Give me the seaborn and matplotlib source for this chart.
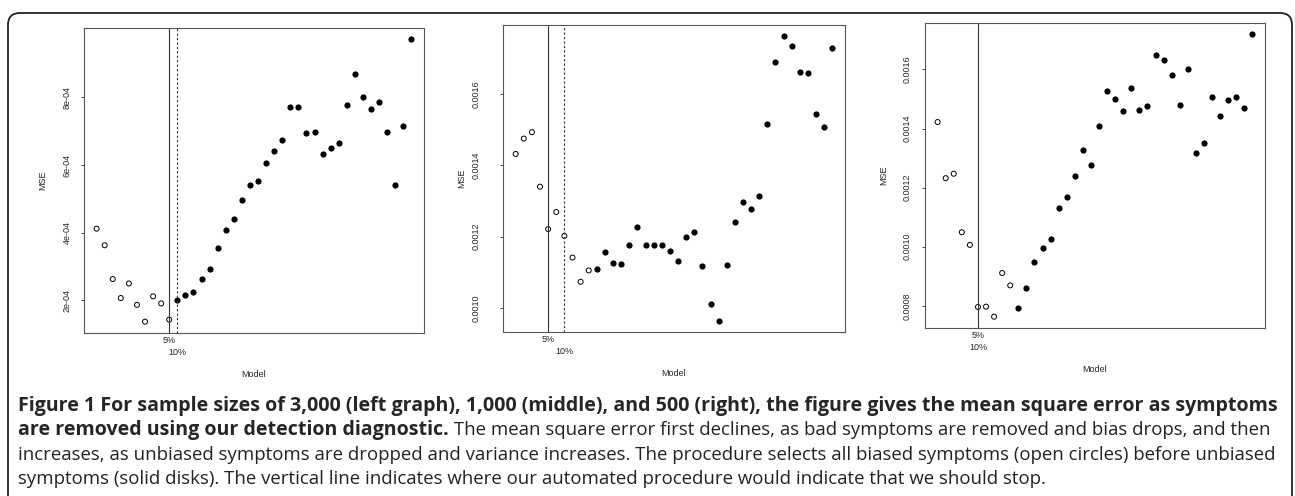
import matplotlib
matplotlib.use("Agg")
import numpy as np
import pandas as pd
import matplotlib.pyplot as plt
import seaborn as sns
from matplotlib.patches import FancyBboxPatch
from matplotlib.transforms import IdentityTransform

# MSE by model step; first N_OPEN points are biased symptoms (open circles)
N_OPEN = 10

mse_3000 = [4.12e-4, 3.63e-4, 2.63e-4, 2.07e-4, 2.50e-4, 1.87e-4, 1.37e-4, 2.12e-4, 1.91e-4, 1.43e-4,
            2.01e-4, 2.16e-4, 2.25e-4, 2.63e-4, 2.93e-4, 3.55e-4, 4.07e-4, 4.41e-4, 4.96e-4, 5.41e-4,
            5.52e-4, 6.06e-4, 6.41e-4, 6.75e-4, 7.72e-4, 7.72e-4, 6.94e-4, 6.97e-4, 6.34e-4, 6.52e-4,
            6.66e-4, 7.79e-4, 8.70e-4, 8.00e-4, 7.67e-4, 7.86e-4, 6.98e-4, 5.41e-4, 7.17e-4, 9.72e-4]

mse_1000 = [0.001432, 0.001475, 0.001493, 0.001340, 0.001221, 0.001269, 0.001202, 0.001141, 0.001073, 0.001105,
            0.001110, 0.001158, 0.001127, 0.001124, 0.001177, 0.001226, 0.001177, 0.001176, 0.001177, 0.001160,
            0.001131, 0.001199, 0.001214, 0.001118, 0.001010, 0.000964, 0.001120, 0.001240, 0.001298, 0.001277,
            0.001315, 0.001516, 0.001689, 0.001762, 0.001734, 0.001661, 0.001659, 0.001544, 0.001507, 0.001730]

mse_500 = [0.001422, 0.001232, 0.001247, 0.001049, 0.001006, 0.000796, 0.000797, 0.000763, 0.000911, 0.000869,
           0.000791, 0.000861, 0.000948, 0.000996, 0.001026, 0.001131, 0.001169, 0.001240, 0.001326, 0.001276,
           0.001407, 0.001528, 0.001500, 0.001461, 0.001537, 0.001464, 0.001477, 0.001649, 0.001631, 0.001580,
           0.001481, 0.001600, 0.001318, 0.001351, 0.001506, 0.001443, 0.001496, 0.001508, 0.001468, 0.001719]

# stopping points (model index) for the 5% and 10% rules
cut_5 = [10, 5, 6]
cut_10 = [11, 7, 6]

ytick_vals = [[2e-4, 4e-4, 6e-4, 8e-4],
              [0.0010, 0.0012, 0.0014, 0.0016],
              [0.0008, 0.0010, 0.0012, 0.0014, 0.0016]]
ytick_labels = [["2e-04", "4e-04", "6e-04", "8e-04"],
                ["0.0010", "0.0012", "0.0014", "0.0016"],
                ["0.0008", "0.0010", "0.0012", "0.0014", "0.0016"]]

caption_bold_1 = ("Figure 1 For sample sizes of 3,000 (left graph), 1,000 (middle), and 500 (right), "
                  "the figure gives the mean square error as symptoms")
caption_bold_2 = "are removed using our detection diagnostic."
caption_norm_2 = (" The mean square error first declines, as bad symptoms are removed and bias drops, "
                  "and then")
caption_norm_3 = ("increases, as unbiased symptoms are dropped and variance increases. The procedure "
                  "selects all biased symptoms (open circles) before unbiased")
caption_norm_4 = ("symptoms (solid disks). The vertical line indicates where our automated procedure "
                  "would indicate that we should stop.")

W, H = 1295, 496

sns.set_style("ticks")
plt.rcParams['font.family'] = ['Liberation Sans', 'DejaVu Sans']

fig = plt.figure(figsize=(W / 100, H / 100), dpi=100)

# axes boxes in pixels: left, top, right, bottom; plus tick label gap
boxes = [(84, 28, 424, 333), (503, 25, 845, 332), (925, 23, 1265, 328)]
label_gap = [12, 22, 13]

for i, mse in enumerate([mse_3000, mse_1000, mse_500]):
    l, t, r, b = boxes[i]
    ax = fig.add_axes([l / W, 1 - b / H, (r - l) / W, (b - t) / H])
    df = pd.DataFrame({"model": np.arange(1, len(mse) + 1), "mse": mse})
    df["kind"] = np.where(df["model"] <= N_OPEN, "biased", "unbiased")

    sns.scatterplot(data=df[df["kind"] == "biased"], x="model", y="mse", ax=ax,
                    marker="o", s=13, facecolors="none", edgecolor="black", linewidth=0.7)
    sns.scatterplot(data=df[df["kind"] == "unbiased"], x="model", y="mse", ax=ax,
                    marker="o", s=20, color="black", linewidth=0)

    ax.axvline(cut_5[i], color="#333333", lw=0.8)
    if cut_10[i] != cut_5[i]:
        ax.axvline(cut_10[i], color="#333333", lw=0.8, ls=(0, (2, 2)))

    ax.margins(x=0.04, y=0.04)
    # 5% on the first label line, 10% staggered on the second
    ax.xaxis.remove_overlapping_locs = False
    ax.set_xticks([cut_5[i]])
    ax.set_xticklabels(["5%"])
    ax.set_xticks([cut_10[i]], minor=True)
    ax.set_xticklabels(["10%"], minor=True)
    ax.tick_params(axis="x", which="major", length=0, pad=2, labelsize=6.5)
    ax.tick_params(axis="x", which="minor", length=0, pad=10.5, labelsize=6.5)
    ax.set_yticks(ytick_vals[i])
    ax.set_yticklabels(ytick_labels[i], rotation=90, va="center")
    ax.tick_params(axis="y", length=2.2, width=0.6, pad=label_gap[i] * 0.72 - 2.2, labelsize=6.5)

    for sp in ax.spines.values():
        sp.set_visible(True)
        sp.set_color("#555555")
        sp.set_linewidth(0.8)

    ax.set_xlabel("Model", fontsize=6.5)
    ax.set_ylabel("MSE", fontsize=6.5)
    ax.xaxis.set_label_coords(0.5, -37 / (b - t))
    ax.yaxis.set_label_coords(-37 / (r - l), 0.5)

# outer rounded frame
frame = FancyBboxPatch((8, -40), 1284, 496 - 13 + 40, boxstyle="round,pad=0,rounding_size=12",
                       transform=IdentityTransform(), fill=False, edgecolor="#222222", lw=1.3)
fig.add_artist(frame)

# caption, sized to fill the measured line widths
cap_font = ["Open Sans", "DejaVu Sans"]
x0 = 18
line_y = [406, 430, 455, 479]

renderer = fig.canvas.get_renderer()
probe = fig.text(0, 0, caption_bold_1, fontsize=10, fontweight="bold", family=cap_font)
bold_size = 10 * (1278 - x0) / probe.get_window_extent(renderer).width
probe.remove()
probe = fig.text(0, 0, caption_norm_3, fontsize=10, family=cap_font)
norm_size = 10 * (1272 - x0) / probe.get_window_extent(renderer).width
probe.remove()

fig.text(x0 / W, 1 - line_y[0] / H, caption_bold_1, fontsize=bold_size, fontweight="bold",
         family=cap_font, va="center")
t2 = fig.text(x0 / W, 1 - line_y[1] / H, caption_bold_2, fontsize=bold_size, fontweight="bold",
              family=cap_font, va="center")
x2 = t2.get_window_extent(renderer).x1
fig.text(x2 / W, 1 - line_y[1] / H, caption_norm_2, fontsize=norm_size, family=cap_font,
         va="center", color="#222222")
fig.text(x0 / W, 1 - line_y[2] / H, caption_norm_3, fontsize=norm_size, family=cap_font,
         va="center", color="#222222")
fig.text(x0 / W, 1 - line_y[3] / H, caption_norm_4, fontsize=norm_size, family=cap_font,
         va="center", color="#222222")

fig.savefig("out.png", dpi=100)
